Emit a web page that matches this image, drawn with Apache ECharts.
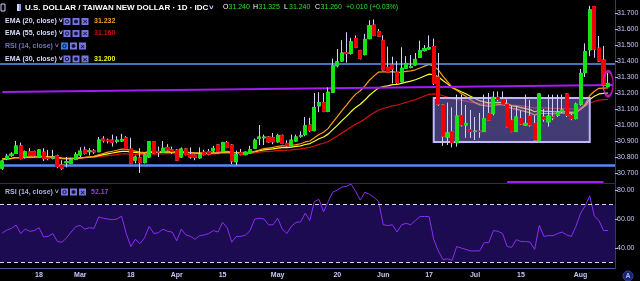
<!DOCTYPE html>
<html><head><meta charset="utf-8">
<script src="https://cdn.jsdelivr.net/npm/echarts@6/dist/echarts.min.js"></script>
<style>html,body{margin:0;padding:0;background:#000;}#c{width:640px;height:281px;}</style>
</head><body><div id="c"></div>
<script>
const dates = ['02-06','02-07','02-08','02-11','02-12','02-13','02-14','02-15','02-18','02-19','02-20','02-21','02-22','02-25','02-26','02-27','02-28',
'03-01','03-04','03-05','03-06','03-07','03-08','03-11','03-12','03-13','03-14','03-15','03-18','03-19','03-20','03-21','03-22','03-25','03-26','03-27','03-28','03-29',
'04-01','04-02','04-03','04-04','04-05','04-08','04-09','04-10','04-11','04-12','04-15','04-16','04-17','04-18','04-19','04-22','04-23','04-24','04-25','04-26','04-29','04-30',
'05-01','05-02','05-03','05-06','05-07','05-08','05-09','05-10','05-13','05-14','05-15','05-16','05-17','05-20','05-21','05-22','05-23','05-24','05-27','05-28','05-29','05-30','05-31',
'06-03','06-04','06-05','06-06','06-07','06-10','06-11','06-12','06-13','06-14','06-17','06-18','06-19','06-20','06-21','06-24','06-25','06-26','06-27','06-28',
'07-01','07-02','07-03','07-04','07-05','07-08','07-09','07-10','07-11','07-12','07-15','07-16','07-17','07-18','07-19','07-22','07-23','07-24','07-25','07-26','07-29','07-30','07-31',
'08-01','08-02','08-05','08-06','08-07','08-08','08-09','08-12'];

const opens = [30.73,30.79,30.81,30.823,30.869,30.80,30.833,30.833,30.80,30.83,
30.795,30.792,30.808,30.75,30.765,30.76,30.785,30.812,30.844,30.833,
30.838,30.833,30.912,30.905,30.906,30.898,30.90,30.92,30.85,30.78,
30.795,30.765,30.80,30.895,30.835,30.83,30.86,30.845,30.843,30.80,
30.85,30.815,30.81,30.795,30.83,30.833,30.838,30.875,30.835,30.89,
30.875,30.77,30.827,30.815,30.825,30.855,30.917,30.92,30.925,30.92,
30.895,30.935,30.885,30.87,30.90,30.93,30.94,31.00,30.965,31.12,
31.14,31.085,31.205,31.37,31.40,31.452,31.448,31.54,31.465,31.44,
31.54,31.625,31.585,31.527,31.36,31.375,31.33,31.27,31.355,31.36,
31.375,31.423,31.465,31.475,31.49,31.30,31.125,30.925,30.958,30.89,
31.06,31.00,30.97,30.96,30.962,30.96,31.073,31.073,31.173,31.16,
31.13,31.03,30.96,31.04,31.00,31.056,31.01,30.90,31.05,31.02,
31.05,31.06,31.083,31.194,31.06,31.04,31.13,31.327,31.47,31.74,
31.48,31.406,31.24];
const highs = [30.78,30.82,30.83,30.90,30.89,30.84,30.855,30.84,30.85,30.855,
30.845,30.845,30.815,30.78,30.80,30.795,30.83,30.86,30.865,30.855,
30.85,30.925,30.93,30.915,30.94,30.93,30.945,30.93,30.92,30.81,
30.855,30.815,30.90,30.90,30.865,30.90,30.88,30.865,30.85,30.86,
30.855,30.86,30.815,30.86,30.845,30.85,30.87,30.88,30.895,30.90,
30.88,30.84,30.85,30.835,30.87,30.915,31.00,30.94,30.93,30.95,
30.945,30.94,30.905,30.94,30.94,30.96,31.05,31.045,31.20,31.205,
31.20,31.235,31.415,31.475,31.53,31.58,31.545,31.56,31.47,31.57,
31.655,31.66,31.60,31.56,31.49,31.427,31.40,31.486,31.43,31.4375,
31.45,31.527,31.50,31.56,31.54,31.45,31.13,31.14,31.11,31.19,
31.19,31.125,31.094,31.05,31.075,31.19,31.20,31.21,31.21,31.21,
31.16,31.12,31.12,31.09,31.19,31.156,31.06,31.20,31.10,31.19,
31.19,31.19,31.19,31.20,31.07,31.14,31.35,31.51,31.745,31.745,
31.556,31.494,31.325];
const lows = [30.72,30.78,30.80,30.82,30.785,30.79,30.805,30.80,30.795,30.775,
30.78,30.785,30.73,30.72,30.735,30.755,30.78,30.80,30.815,30.81,
30.82,30.83,30.89,30.885,30.865,30.885,30.895,30.845,30.755,30.76,
30.70,30.76,30.795,30.82,30.80,30.825,30.84,30.82,30.775,30.795,
30.81,30.79,30.78,30.79,30.81,30.81,30.83,30.825,30.83,30.855,
30.756,30.75,30.81,30.81,30.82,30.85,30.875,30.875,30.89,30.88,
30.89,30.88,30.86,30.865,30.895,30.92,30.93,30.955,30.96,31.08,
31.08,31.08,31.20,31.36,31.395,31.39,31.44,31.48,31.41,31.435,
31.535,31.555,31.55,31.34,31.325,31.26,31.255,31.265,31.35,31.355,
31.37,31.42,31.46,31.47,31.25,31.12,30.87,30.875,30.86,30.865,
30.99,30.92,30.92,30.906,30.92,30.955,31.025,31.06,31.15,31.125,
30.985,30.955,30.955,31.00,30.995,30.99,30.90,30.895,31.02,30.99,
31.03,31.05,31.075,31.05,31.03,31.035,31.12,31.30,31.43,31.42,
31.395,31.22,31.24];
const closes = [30.775,30.805,30.818,30.869,30.79,30.833,30.81,30.808,30.844,30.79,
30.79,30.80,30.74,30.73,30.77,30.785,30.815,30.837,30.823,30.838,
30.832,30.906,30.902,30.90,30.892,30.905,30.91,30.85,30.76,30.80,
30.765,30.812,30.896,30.825,30.83,30.855,30.845,30.835,30.78,30.85,
30.815,30.80,30.797,30.815,30.815,30.817,30.854,30.833,30.89,30.86,
30.775,30.815,30.815,30.83,30.845,30.905,30.925,30.925,30.895,30.895,
30.935,30.885,30.87,30.905,30.925,30.935,30.995,30.965,31.11,31.14,
31.085,31.205,31.37,31.395,31.45,31.446,31.52,31.486,31.417,31.535,
31.62,31.56,31.555,31.345,31.33,31.35,31.265,31.355,31.385,31.365,
31.41,31.464,31.478,31.485,31.26,31.13,30.93,30.95,30.89,31.056,
31.00,31.01,30.96,30.962,30.958,31.04,31.03,31.173,31.16,31.13,
30.99,30.96,31.05,31.006,31.01,31.00,30.906,31.194,31.036,31.056,
31.045,31.077,31.094,31.06,31.04,31.13,31.323,31.458,31.72,31.473,
31.40,31.25,31.26];

const ema20 = [30.784,30.786,30.789,30.797,30.796,30.799,30.800,30.801,30.805,30.804,
30.803,30.802,30.796,30.790,30.788,30.788,30.791,30.795,30.798,30.801,
30.804,30.814,30.822,30.830,30.836,30.842,30.849,30.849,30.840,30.837,
30.830,30.828,30.835,30.834,30.833,30.835,30.836,30.836,30.831,30.833,
30.831,30.828,30.825,30.824,30.823,30.823,30.826,30.826,30.832,30.835,
30.829,30.828,30.827,30.827,30.829,30.836,30.844,30.852,30.856,30.860,
30.867,30.869,30.869,30.872,30.877,30.883,30.894,30.900,30.920,30.941,
30.955,30.979,31.016,31.052,31.090,31.124,31.162,31.193,31.214,31.245,
31.280,31.307,31.331,31.332,31.332,31.334,31.327,31.330,31.335,31.338,
31.345,31.356,31.368,31.379,31.368,31.345,31.305,31.271,31.235,31.218,
31.197,31.179,31.158,31.140,31.126,31.122,31.116,31.122,31.127,31.128,
31.117,31.103,31.099,31.091,31.084,31.077,31.062,31.075,31.072,31.072,
31.070,31.072,31.075,31.074,31.071,31.077,31.098,31.130,31.184,31.211,
31.229,31.231,31.232];
const ema30 = [30.789,30.790,30.792,30.797,30.796,30.799,30.799,30.800,30.803,30.802,
30.801,30.801,30.797,30.793,30.791,30.791,30.792,30.795,30.797,30.800,
30.802,30.809,30.815,30.820,30.825,30.830,30.835,30.836,30.831,30.829,
30.825,30.824,30.829,30.829,30.829,30.830,30.831,30.832,30.828,30.830,
30.829,30.827,30.825,30.824,30.824,30.823,30.825,30.826,30.830,30.832,
30.828,30.827,30.827,30.827,30.828,30.833,30.839,30.844,30.848,30.851,
30.856,30.858,30.859,30.862,30.866,30.870,30.878,30.884,30.899,30.914,
30.925,30.943,30.971,30.998,31.027,31.054,31.084,31.110,31.130,31.156,
31.186,31.210,31.232,31.240,31.245,31.252,31.253,31.260,31.268,31.274,
31.283,31.294,31.306,31.318,31.314,31.302,31.278,31.257,31.233,31.222,
31.208,31.195,31.180,31.166,31.152,31.145,31.138,31.140,31.141,31.141,
31.131,31.120,31.116,31.109,31.102,31.096,31.083,31.091,31.087,31.085,
31.083,31.082,31.083,31.082,31.079,31.082,31.098,31.121,31.160,31.180,
31.194,31.198,31.200];
const ema55 = [30.790,30.790,30.791,30.794,30.794,30.795,30.796,30.796,30.798,30.798,
30.797,30.797,30.795,30.793,30.792,30.792,30.793,30.794,30.795,30.797,
30.798,30.802,30.806,30.809,30.812,30.815,30.819,30.820,30.818,30.817,
30.815,30.815,30.818,30.818,30.819,30.820,30.821,30.821,30.820,30.821,
30.821,30.820,30.819,30.819,30.819,30.819,30.820,30.821,30.823,30.824,
30.823,30.822,30.822,30.822,30.823,30.826,30.830,30.833,30.835,30.837,
30.841,30.842,30.843,30.845,30.848,30.851,30.856,30.860,30.869,30.879,
30.886,30.897,30.914,30.931,30.950,30.968,30.987,31.005,31.020,31.038,
31.059,31.077,31.094,31.103,31.111,31.120,31.125,31.133,31.142,31.150,
31.159,31.170,31.181,31.192,31.194,31.192,31.183,31.175,31.164,31.160,
31.155,31.149,31.143,31.138,31.134,31.132,31.130,31.132,31.133,31.133,
31.130,31.125,31.122,31.119,31.116,31.112,31.105,31.109,31.107,31.105,
31.103,31.103,31.103,31.102,31.100,31.101,31.108,31.118,31.136,31.147,
31.155,31.158,31.160];
const rsi = [50.3,52.4,53.5,55.8,50,53,51.5,52,54,47.6,
48,50,44.5,44,47,51,54.8,55.5,53,54,
53.5,61.4,60.5,60,59.5,60,62,50,41,46,
43,47,55,50,50.5,53,51.5,51,45,53,
49,48,46,48.5,49,50,52,51,57.7,54,
44,48,48,49,52,60,60.5,60,56,56,
60.6,53,50,55,57.7,58,64,59,72,73.5,
65,72,78.5,80,82,82.5,84,79,73,78.5,
77,75,72,56,55.5,56,51,56,57,56,
59,61.6,61.8,61.6,46,38,32,32.5,31.5,41,
40,39,38,38,38,43.7,43.7,52,51.5,50,
41,40.5,45.7,44.5,44.5,44,39,55.6,48,48.5,
48.5,50,51,49,48,55,64,69,76,62,
59,52,52.17];

const priceTicks = [30.7,30.8,30.9,31.0,31.1,31.2,31.3,31.4,31.5,31.6,31.7];
const rsiTicks = [40,60,80];
const rsiBands = [30,70];
const tickDates = ['02-18','03-01','03-18','04-01','04-15','05-01','05-20','06-03','06-17','07-01','07-15','08-01'];
const tickLabels = ['18','Mar','18','Apr','15','May','20','Jun','17','Jul','15','Aug'];
const levelLines = [31.38, 30.75];
const trendLine = [[0, 31.206], [133, 31.25]];
const lowSegment = [[110, 30.645], [131, 30.645]];
const rangeBox = [94, 128, 31.169, 30.894];
const legendValues = {ema20: '31.232', ema55: '31.160', ema30: '31.200', rsi: '52.17'};

const lastIdx = closes.length - 1;
const lastClose = closes[lastIdx];
const wickData = opens.map((o, i) => [o, closes[i], lows[i], highs[i]]);
const bodyData = opens.map((o, i) => [o, closes[i], Math.min(o, closes[i]), Math.max(o, closes[i])]);

const FONT = '"Liberation Sans", Arial, sans-serif';
function txt(x, y, s, color, size, weight) {
  return {type: 'text', x: x, y: y, silent: true, z: 100,
    style: {text: s, fill: color, font: (weight || 'bold') + ' ' + size + 'px ' + FONT, align: 'left', verticalAlign: 'middle'}};
}
function icons(x, y, firstColor) {
  const c = '#7676de', d = '#14143c';
  return [
    {type: 'rect', z: 100, shape: {x: x, y: y - 3.5, width: 7, height: 7}, style: {fill: firstColor || c}},
    {type: 'circle', z: 101, shape: {cx: x + 3.5, cy: y, r: 1.7}, style: {fill: 'none', stroke: d, lineWidth: 1}},
    {type: 'rect', z: 100, shape: {x: x + 9, y: y - 3.5, width: 7, height: 7}, style: {fill: c}},
    {type: 'circle', z: 101, shape: {cx: x + 12.5, cy: y, r: 2}, style: {fill: d}},
    {type: 'rect', z: 100, shape: {x: x + 18, y: y - 3.5, width: 7, height: 7}, style: {fill: c}},
    {type: 'text', z: 101, x: x + 21.5, y: y + 0.5, style: {text: '×', fill: d, font: 'bold 8px ' + FONT, align: 'center', verticalAlign: 'middle'}}
  ];
}
const W = '#d6d8ff';
const graphics = [].concat(
  [{type: 'rect', z: 100, shape: {x: 1, y: 4, width: 4, height: 7}, style: {fill: 'none', stroke: '#c8ccf4', lineWidth: 1}},
   {type: 'rect', z: 100, shape: {x: 17, y: 4, width: 4, height: 7}, style: {fill: '#8a90e8'}},
   {type: 'rect', z: 101, shape: {x: 17, y: 4, width: 2, height: 7}, style: {fill: '#d0d4ff'}}],
  [txt(25, 7.5, 'U.S. DOLLAR / TAIWAN NEW DOLLAR · 1D · IDC', '#ffffff', 8), txt(209, 8, '˅', W, 8)],
  [txt(223, 7.5, 'O', '#ffffff', 7, 'normal'), txt(228.5, 7.5, '31.240', '#27e027', 7, 'normal'),
   txt(253, 7.5, 'H', '#ffffff', 7, 'normal'), txt(258.5, 7.5, '31.325', '#27e027', 7, 'normal'),
   txt(284, 7.5, 'L', '#ffffff', 7, 'normal'), txt(289, 7.5, '31.240', '#27e027', 7, 'normal'),
   txt(315, 7.5, 'C', '#ffffff', 7, 'normal'), txt(320.5, 7.5, '31.260', '#27e027', 7, 'normal'),
   txt(346, 7.5, '+0.010 (+0.03%)', '#27e027', 7, 'normal')],
  [txt(5, 21.5, 'EMA (20, close) ˅', W, 7)], icons(63.5, 21.5), [txt(94, 21.5, legendValues.ema20, '#eea21c', 7)],
  [txt(5, 33.5, 'EMA (55, close) ˅', W, 7)], icons(63.5, 33.5), [txt(94, 33.5, legendValues.ema55, '#c41010', 7)],
  [txt(5, 46, 'RSI (14, close) ˅', '#6e72c4', 7)], icons(61, 46, '#2f80f6'),
  [txt(5, 59, 'EMA (30, close) ˅', W, 7)], icons(63.5, 59), [txt(94, 59, legendValues.ema30, '#f4f41e', 7)],
  [txt(5, 192, 'RSI (14, close) ˅', '#aaaedc', 7)], icons(61, 192), [txt(91, 192, legendValues.rsi, '#9440f0', 7)],
  [{type: 'circle', z: 100, shape: {cx: 628, cy: 276, r: 5}, style: {fill: '#1d2466', stroke: '#3444a8', lineWidth: 1}},
   {type: 'text', z: 101, x: 628, y: 276.5, style: {text: 'A', fill: '#a8b2ff', font: 'bold 7px ' + FONT, align: 'center', verticalAlign: 'middle'}}]
);

const chart = echarts.init(document.getElementById('c'), null, {renderer: 'canvas'});
chart.setOption({
  backgroundColor: '#000000',
  animation: false,
  grid: [
    {left: 0, right: 25, top: 0, height: 183, containLabel: false, outerBoundsMode: 'none'},
    {left: 0, right: 25, top: 183, height: 85, containLabel: false, outerBoundsMode: 'none'}
  ],
  xAxis: [
    {type: 'category', gridIndex: 0, data: dates, boundaryGap: true,
     axisLine: {show: true, lineStyle: {color: '#2c3050', width: 1}}, axisTick: {show: false}, axisLabel: {show: false}, splitLine: {show: false}},
    {type: 'category', gridIndex: 1, data: dates, boundaryGap: true,
     axisLine: {show: true, lineStyle: {color: '#4b54a8', width: 1}}, axisTick: {show: false}, splitLine: {show: false},
     axisLabel: {interval: (idx, val) => tickDates.indexOf(val) >= 0,
       formatter: (val) => { const k = tickDates.indexOf(val); return k >= 0 ? tickLabels[k] : ''; },
       color: '#c4c8f8', fontSize: 7, fontWeight: 'bold', fontFamily: 'Liberation Sans', margin: 4}}
  ],
  yAxis: [
    {type: 'value', gridIndex: 0, position: 'right', min: 30.6375, max: 31.78125, scale: true,
     axisLine: {show: true, lineStyle: {color: '#363a5c'}},
     axisTick: {show: true, length: 3, lineStyle: {color: '#aab0ee'}, customValues: priceTicks},
     axisLabel: {customValues: priceTicks, formatter: (v) => v.toFixed(3), color: '#c4c8f8', fontSize: 7, fontFamily: 'Liberation Sans', margin: 2},
     splitLine: {show: false}},
    {type: 'value', gridIndex: 1, position: 'right', min: 26.2, max: 84.83,
     axisLine: {show: true, lineStyle: {color: '#363a5c'}},
     axisTick: {show: true, length: 3, lineStyle: {color: '#aab0ee'}, customValues: rsiTicks},
     axisLabel: {customValues: rsiTicks, formatter: (v) => v.toFixed(2), color: '#c4c8f8', fontSize: 7, fontFamily: 'Liberation Sans', margin: 2},
     splitLine: {show: false}}
  ],
  graphic: graphics,
  series: [
    {name: 'EMA55', type: 'line', xAxisIndex: 0, yAxisIndex: 0, data: ema55, symbol: 'none', silent: true, z: 2,
     lineStyle: {color: '#d81010', width: 1.2},
     markLine: {silent: true, symbol: 'none', animation: false, label: {show: false},
       data: [
         {yAxis: levelLines[0], lineStyle: {color: '#5c9cf5', width: 1.5, type: 'solid'}},
         {yAxis: levelLines[1], lineStyle: {color: '#4f8ff8', width: 2.5, type: 'solid'}},
         [{coord: trendLine[0], lineStyle: {color: '#a21cf2', width: 2, type: 'solid'}}, {coord: trendLine[1]}],
         [{coord: lowSegment[0], lineStyle: {color: '#a21cf2', width: 2, type: 'solid'}}, {coord: lowSegment[1]}],
         {yAxis: lastClose, lineStyle: {opacity: 0},
          label: {show: true, position: 'end', distance: 0, formatter: lastClose.toFixed(3),
            backgroundColor: '#12e012', color: '#e8ffe8', fontSize: 7, fontFamily: 'Liberation Sans', padding: [2, 3, 2, 3]}}
       ]}},
    {name: 'EMA30', type: 'line', xAxisIndex: 0, yAxisIndex: 0, data: ema30, symbol: 'none', silent: true, z: 2,
     lineStyle: {color: '#ffff22', width: 1.2}},
    {name: 'EMA20', type: 'line', xAxisIndex: 0, yAxisIndex: 0, data: ema20, symbol: 'none', silent: true, z: 2,
     lineStyle: {color: '#ff9c12', width: 1.2}},
    {name: 'Range', type: 'custom', xAxisIndex: 0, yAxisIndex: 0, data: [rangeBox], z: 4, silent: true,
     encode: {x: [0, 1], y: [2, 3]},
     renderItem: (params, api) => {
       const p1 = api.coord([api.value(0), api.value(2)]);
       const p2 = api.coord([api.value(1), api.value(3)]);
       return {type: 'rect', shape: {x: p1[0], y: p1[1], width: p2[0] - p1[0], height: p2[1] - p1[1]},
         style: {fill: 'rgba(140,126,240,0.48)', stroke: '#c0b8f6', lineWidth: 2}};
     }},
    {name: 'Wicks', type: 'candlestick', xAxisIndex: 0, yAxisIndex: 0, data: wickData, barWidth: 3.6, z: 6, silent: true,
     itemStyle: {color: 'rgba(0,0,0,0)', color0: 'rgba(0,0,0,0)', borderColor: '#d2d2ff', borderColor0: '#d2d2ff', borderWidth: 1}},
    {name: 'Bodies', type: 'candlestick', xAxisIndex: 0, yAxisIndex: 0, data: bodyData, barWidth: 3.6, z: 7, silent: true,
     itemStyle: {color: '#10e610', color0: '#f00000', borderColor: '#10e610', borderColor0: '#f00000', borderWidth: 1}},
    {name: 'Mark', type: 'scatter', xAxisIndex: 0, yAxisIndex: 0, data: [[lastIdx, 31.258]], symbol: 'circle', symbolSize: [10, 25], z: 8, silent: true,
     itemStyle: {color: 'rgba(0,0,0,0)', borderColor: '#e41de4', borderWidth: 2}},
    {name: 'RSI', type: 'line', xAxisIndex: 1, yAxisIndex: 1, data: rsi, symbol: 'none', silent: true, z: 3,
     lineStyle: {color: '#8b2cf5', width: 1},
     markArea: {silent: true, itemStyle: {color: '#1c0b50'}, data: [[{yAxis: rsiBands[0]}, {yAxis: rsiBands[1]}]]},
     markLine: {silent: true, symbol: 'none', animation: false, label: {show: false},
       lineStyle: {color: '#d6d6f0', width: 1, type: [4, 3]},
       data: [{yAxis: rsiBands[1]}, {yAxis: rsiBands[0]}]}}
  ]
});
</script></body></html>
